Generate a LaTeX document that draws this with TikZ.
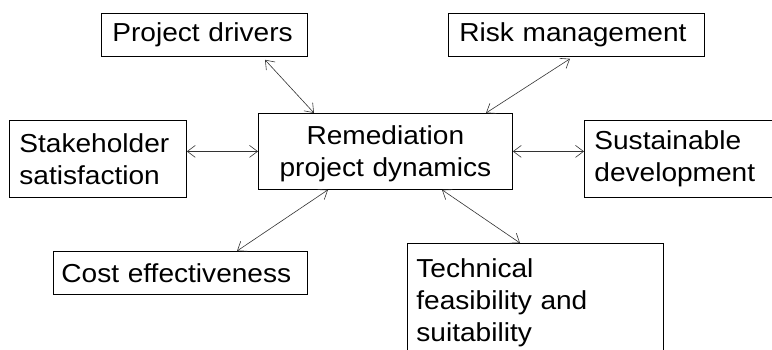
\documentclass[tikz,border=0pt]{standalone}
\usepackage{fontspec}
\setmainfont{Liberation Sans}[FakeStretch=1.08]
\usetikzlibrary{arrows.meta}

\begin{document}
\begin{tikzpicture}[x=1pt, y=-1pt,
        box/.style={draw, line width=0.8pt, anchor=north west, align=left,
            inner ysep=0pt, font=\fontsize{26}{32}\selectfont},
        link/.style={draw=black!80, line width=0.6pt,
            {Straight Barb[length=8pt,width=12pt]}-{Straight Barb[length=8pt,width=12pt]}}]
        \useasboundingbox [fill=white] (0,0) rectangle (772,350);

        \node [box, align=center, inner xsep=0pt, text width=254pt, minimum height=76pt] (rem) at (258,113) {\rule{0pt}{24pt}Remediation\\project dynamics};
        \node [box, inner xsep=11pt, text width=184pt, minimum height=43pt] (pd) at (101,13) {Project drivers};
        \node [box, inner xsep=11pt, text width=234pt, minimum height=43pt] (rm) at (448,13) {Risk management};
        \node [box, inner xsep=10pt, text width=157pt, minimum height=77pt] (sh) at (9,120) {Stakeholder\\satisfaction};
        \node [box, inner xsep=10pt, text width=180pt, minimum height=77pt] (sd) at (584,120) {Sustainable\\development};
        \node [box, inner xsep=8pt, text width=238pt, minimum height=43pt] (ce) at (53,251) {Cost effectiveness};
        \node [box, inner xsep=9pt, text width=238pt, minimum height=119pt] (tf) at (407,243) {Technical\\feasibility and\\suitability};

        \draw [link] ([xshift=164pt,yshift=-3pt]pd.south west) -- ([xshift=56pt]rem.north west);
        \draw [link] ([xshift=122pt,yshift=-2pt]rm.south west) -- ([xshift=228pt]rem.north west);
        \draw [link] (sh.east |- rem.west) -- (rem.west);
        \draw [link] (rem.east) -- (rem.east -| sd.west);
        \draw [link] ([xshift=70pt]rem.south west) -- ([xshift=184pt]ce.north west);
        \draw [link] ([xshift=184pt]rem.south west) -- ([xshift=113pt]tf.north west);
    \end{tikzpicture}
\end{document}
